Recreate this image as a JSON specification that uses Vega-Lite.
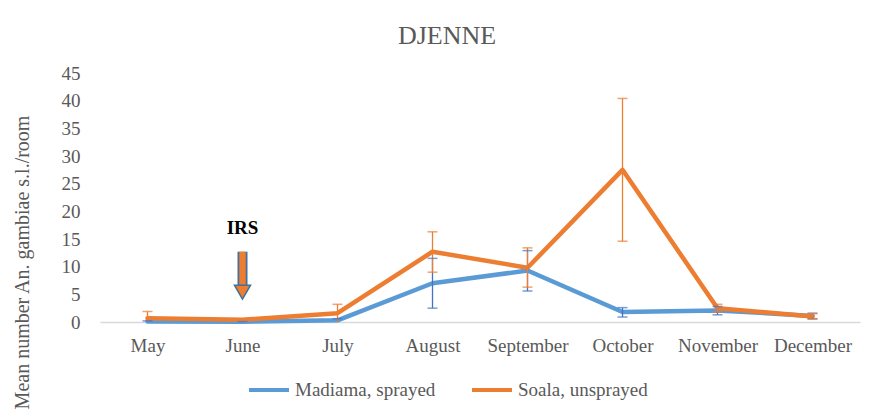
{
  "$schema": "https://vega.github.io/schema/vega-lite/v6.json",
  "width": 760,
  "height": 249,
  "autosize": {"type": "none"},
  "padding": {"left": 100, "top": 73, "right": 12, "bottom": 96},
  "background": "white",
  "title": {
    "text": "DJENNE",
    "font": "Liberation Serif",
    "fontSize": 26,
    "fontWeight": "normal",
    "color": "#595959",
    "anchor": "middle",
    "frame": "group",
    "dx": -33,
    "offset": 15
  },
  "config": {
    "view": {"stroke": null},
    "font": "Liberation Serif",
    "axis": {"labelFont": "Liberation Serif", "titleFont": "Liberation Serif"},
    "axisY": {
      "labelOverlap": false,
      "grid": false,
      "domain": false,
      "ticks": false,
      "labelPadding": 20,
      "labelFontSize": 19,
      "labelColor": "#595959",
      "titleFontSize": 20,
      "titleFontWeight": "normal",
      "titleColor": "#595959",
      "titleAngle": 270,
      "titleAlign": "center",
      "titleBaseline": "middle",
      "titleX": -78,
      "titleY": 189
    },
    "legend": {"labelFont": "Liberation Serif"},
    "title": {"font": "Liberation Serif"}
  },
  "datasets": {
    "main": [
      {"month": "May", "series": "Madiama, sprayed", "mean": 0.1, "lo": 0.0, "hi": 0.2},
      {"month": "June", "series": "Madiama, sprayed", "mean": 0.05, "lo": 0.0, "hi": 0.1},
      {"month": "July", "series": "Madiama, sprayed", "mean": 0.3, "lo": 0.0, "hi": 0.6},
      {"month": "August", "series": "Madiama, sprayed", "mean": 7.0, "lo": 2.5, "hi": 11.5},
      {"month": "September", "series": "Madiama, sprayed", "mean": 9.3, "lo": 5.6, "hi": 12.9},
      {"month": "October", "series": "Madiama, sprayed", "mean": 1.8, "lo": 0.9, "hi": 2.6},
      {"month": "November", "series": "Madiama, sprayed", "mean": 2.1, "lo": 1.3, "hi": 2.8},
      {"month": "December", "series": "Madiama, sprayed", "mean": 1.1, "lo": 0.6, "hi": 1.6},
      {"month": "May", "series": "Soala, unsprayed", "mean": 0.7, "lo": 0.0, "hi": 1.9},
      {"month": "June", "series": "Soala, unsprayed", "mean": 0.4, "lo": 0.3, "hi": 0.5},
      {"month": "July", "series": "Soala, unsprayed", "mean": 1.6, "lo": 0.0, "hi": 3.2},
      {"month": "August", "series": "Soala, unsprayed", "mean": 12.7, "lo": 9.0, "hi": 16.3},
      {"month": "September", "series": "Soala, unsprayed", "mean": 9.8, "lo": 6.3, "hi": 13.4},
      {"month": "October", "series": "Soala, unsprayed", "mean": 27.5, "lo": 14.6, "hi": 40.4},
      {"month": "November", "series": "Soala, unsprayed", "mean": 2.5, "lo": 1.8, "hi": 3.2},
      {"month": "December", "series": "Soala, unsprayed", "mean": 1.0, "lo": 0.5, "hi": 1.5}
    ],
    "irs": [
      {"month": "June", "top": 12.7, "bottom": 6.6, "head": 5.4, "labelY": 17.0, "label": "IRS"}
    ]
  },
  "encoding": {
    "x": {
      "field": "month",
      "type": "nominal",
      "sort": ["May", "June", "July", "August", "September", "October", "November", "December"],
      "scale": {"type": "point", "padding": 0.5},
      "axis": {
        "title": null,
        "labelAngle": 0,
        "labelFont": "Liberation Serif",
        "labelFontSize": 19,
        "labelColor": "#595959",
        "labelPadding": 14,
        "labelOverlap": false,
        "ticks": false,
        "domainColor": "#d9d9d9",
        "domainWidth": 1.3
      }
    }
  },
  "layer": [
    {
      "data": {"name": "main"},
      "mark": {"type": "line", "strokeWidth": 4.5, "strokeCap": "round", "strokeJoin": "round"},
      "encoding": {
        "y": {
          "field": "mean",
          "type": "quantitative",
          "scale": {"domain": [0, 45], "nice": false},
          "axis": {"values": [0, 5, 10, 15, 20, 25, 30, 35, 40, 45], "tickCount": 10, "title": "Mean number An. gambiae s.l./room"}
        },
        "color": {
          "field": "series",
          "type": "nominal",
          "scale": {"domain": ["Madiama, sprayed", "Soala, unsprayed"], "range": ["#5B9BD5", "#ED7D31"]},
          "legend": {
            "title": null,
            "orient": "none",
            "direction": "horizontal",
            "legendX": 147,
            "legendY": 295,
            "symbolType": "stroke",
            "symbolSize": 1600,
            "symbolStrokeWidth": 4,
            "labelFont": "Liberation Serif",
            "labelFontSize": 19,
            "labelColor": "#595959",
            "labelOffset": 4,
            "columnPadding": 28
          }
        }
      }
    },
    {
      "data": {"name": "main"},
      "mark": {"type": "rule", "strokeWidth": 1.3},
      "encoding": {
        "y": {"field": "lo", "type": "quantitative", "axis": {"values": [0, 5, 10, 15, 20, 25, 30, 35, 40, 45], "tickCount": 10, "title": "Mean number An. gambiae s.l./room"}},
        "y2": {"field": "hi"},
        "color": {"condition": {"test": "datum.series === 'Madiama, sprayed'", "value": "#4472C4"}, "value": "#ED7D31"}
      }
    },
    {
      "data": {"name": "main"},
      "mark": {"type": "tick", "orient": "horizontal", "size": 10, "thickness": 1.5},
      "encoding": {
        "y": {"field": "hi", "type": "quantitative", "axis": {"values": [0, 5, 10, 15, 20, 25, 30, 35, 40, 45], "tickCount": 10, "title": "Mean number An. gambiae s.l./room"}},
        "color": {"condition": {"test": "datum.series === 'Madiama, sprayed'", "value": "#4472C4"}, "value": "#ED7D31"}
      }
    },
    {
      "data": {"name": "main"},
      "transform": [{"filter": "datum.lo > 0"}],
      "mark": {"type": "tick", "orient": "horizontal", "size": 10, "thickness": 1.5},
      "encoding": {
        "y": {"field": "lo", "type": "quantitative", "axis": {"values": [0, 5, 10, 15, 20, 25, 30, 35, 40, 45], "tickCount": 10, "title": "Mean number An. gambiae s.l./room"}},
        "color": {"condition": {"test": "datum.series === 'Madiama, sprayed'", "value": "#4472C4"}, "value": "#ED7D31"}
      }
    },
    {
      "data": {"name": "irs"},
      "mark": {"type": "rule", "strokeWidth": 10, "color": "#41719C"},
      "encoding": {
        "y": {"field": "top", "type": "quantitative", "axis": {"values": [0, 5, 10, 15, 20, 25, 30, 35, 40, 45], "tickCount": 10, "title": "Mean number An. gambiae s.l./room"}},
        "y2": {"field": "bottom"}
      }
    },
    {
      "data": {"name": "irs"},
      "mark": {"type": "rule", "strokeWidth": 6.5, "color": "#ED7D31"},
      "encoding": {
        "y": {"field": "top", "type": "quantitative", "axis": {"values": [0, 5, 10, 15, 20, 25, 30, 35, 40, 45], "tickCount": 10, "title": "Mean number An. gambiae s.l./room"}},
        "y2": {"field": "bottom"}
      }
    },
    {
      "data": {"name": "irs"},
      "mark": {"type": "point", "shape": "triangle-down", "filled": true, "size": 260, "fill": "#ED7D31", "stroke": "#41719C", "strokeWidth": 1.5, "opacity": 1},
      "encoding": {
        "y": {"field": "head", "type": "quantitative", "axis": {"values": [0, 5, 10, 15, 20, 25, 30, 35, 40, 45], "tickCount": 10, "title": "Mean number An. gambiae s.l./room"}}
      }
    },
    {
      "data": {"name": "irs"},
      "mark": {"type": "text", "font": "Liberation Serif", "fontSize": 19, "fontWeight": "bold", "color": "#000000", "baseline": "middle"},
      "encoding": {
        "y": {"field": "labelY", "type": "quantitative", "axis": {"values": [0, 5, 10, 15, 20, 25, 30, 35, 40, 45], "tickCount": 10, "title": "Mean number An. gambiae s.l./room"}},
        "text": {"field": "label"}
      }
    }
  ]
}
